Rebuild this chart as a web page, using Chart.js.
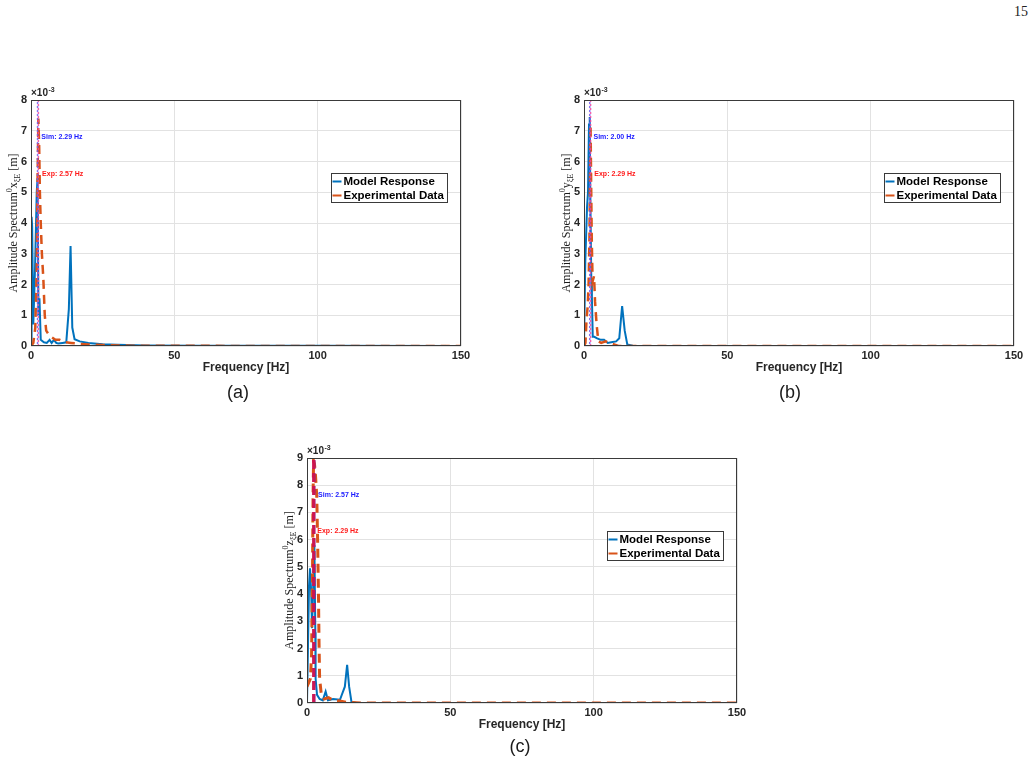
<!DOCTYPE html>
<html>
<head>
<meta charset="utf-8">
<script src="https://cdn.jsdelivr.net/npm/chart.js@4.4.0/dist/chart.umd.min.js"></script>
<style>
body{margin:0;background:#fff;width:1034px;height:767px;position:relative;overflow:hidden;font-family:Arial,"Liberation Sans",sans-serif}
.box{position:absolute}
.cap{position:absolute;font-size:18px;color:#1a1a1a;transform:translateX(-50%)}
</style>
</head>
<body>
<div class="box" style="left:1014px;top:4px;font:14px 'Liberation Serif';color:#222">15</div>
<div class="box" style="left:0;top:85px"><canvas id="ca" width="480" height="300"></canvas></div>
<div class="box" style="left:553px;top:85px"><canvas id="cb" width="480" height="300"></canvas></div>
<div class="box" style="left:276px;top:443px"><canvas id="cc" width="480" height="300"></canvas></div>
<div class="cap" style="left:238px;top:382px">(a)</div>
<div class="cap" style="left:790px;top:382px">(b)</div>
<div class="cap" style="left:520px;top:736px">(c)</div>
<script>
'use strict'

// (a) x方向
const freqModelA = [0, 0.2, 0.4, 0.8, 1.4, 2.0, 2.29, 2.6, 2.95, 3.4, 4.5, 5.5, 6.5, 7.2, 8.0, 8.8, 9.5, 11, 12.3, 13.2, 13.8, 14.4, 15.2, 17, 20, 25, 30, 40, 60, 100, 150];
const modelA =     [0.1, 4.2, 3.9, 0.7, 2.5, 5.0, 5.45, 1.0, 1.55, 0.2, 0.12, 0.1, 0.2, 0.1, 0.2, 0.1, 0.08, 0.1, 0.12, 1.2, 3.25, 0.6, 0.22, 0.15, 0.1, 0.06, 0.04, 0.02, 0.01, 0.005, 0];
const freqExpA = [0, 0.8, 1.5, 2.0, 2.3, 2.57, 2.85, 3.1, 3.4, 3.8, 4.3, 4.8, 5.3, 6.0, 7.0, 8.5, 10, 12, 14, 17, 20, 25, 35, 60, 100, 150];
const expA =     [0, 0.1, 0.6, 2.5, 5.5, 7.4, 6.5, 5.0, 4.0, 3.0, 2.2, 1.0, 0.5, 0.4, 0.3, 0.2, 0.2, 0.12, 0.1, 0.07, 0.05, 0.03, 0.01, 0.005, 0, 0];

// (b) y方向
const freqModelB = [0, 0.45, 1.05, 1.4, 1.75, 2.0, 2.2, 2.55, 2.75, 3.05, 3.6, 4.6, 5.8, 7.0, 8.3, 9.5, 11.2, 12.3, 13.3, 14.2, 15.1, 17, 25, 60, 150];
const modelB =     [0, 2.75, 4.5, 5.0, 7.2, 7.45, 5.0, 2.1, 1.6, 0.3, 0.3, 0.25, 0.2, 0.2, 0.1, 0.12, 0.15, 0.25, 1.3, 0.5, 0.05, 0.01, 0, 0, 0];
const freqExpB = [0, 0.5, 0.9, 1.3, 1.6, 1.9, 2.1, 2.29, 2.5, 2.7, 3.0, 3.5, 3.85, 4.4, 5.0, 6.0, 7.5, 9.0, 10.5, 12, 20, 60, 150];
const expB =     [0, 0.1, 0.9, 1.3, 2.0, 3.5, 5.5, 7.2, 5.2, 3.5, 2.1, 2.27, 1.45, 0.7, 0.15, 0.1, 0.15, 0.1, 0.05, 0, 0, 0, 0];

// (c) z方向
const freqModelC = [0, 0.35, 0.7, 1.05, 1.5, 1.75, 2.1, 2.57, 2.9, 3.0, 3.5, 4.4, 5.5, 6.5, 7.3, 9.1, 11.5, 13.2, 14.0, 14.7, 15.5, 17, 25, 60, 150];
const modelC =     [0, 2.1, 4.3, 4.95, 4.0, 2.75, 4.0, 5.8, 2.6, 0.9, 0.3, 0.15, 0.1, 0.42, 0.1, 0.15, 0.12, 0.6, 1.4, 0.6, 0.05, 0.01, 0, 0, 0];
const freqExpC = [0, 0.6, 1.2, 1.6, 1.9, 2.1, 2.29, 2.6, 3.0, 3.4, 3.7, 4.0, 4.2, 4.4, 5.0, 6.0, 7.5, 9, 11, 14, 20, 60, 150];
const expC =     [0.6, 0.75, 0.9, 1.8, 4.5, 7.5, 8.9, 8.8, 8.3, 7.6, 6.0, 4.0, 2.2, 0.9, 0.3, 0.15, 0.2, 0.1, 0.08, 0.02, 0, 0, 0];

// ピーク周波数
const simPeak = [2.29, 2.00, 2.57];
const expPeak = [2.57, 2.29, 2.29];
const yMax = [8, 8, 9];
const dirName = ['x', 'y', 'z'];
const xTicks = [0, 50, 100, 150];
const seriesNames = ['Model Response', 'Experimental Data'];

const BLUE = '#0072BD';
const ORANGE = '#D95319';

function pts(fs, vs) {
    return fs.map((f, i) => ({x: f, y: vs[i]}));
}

const deco = {
    id: 'deco',
    afterDatasetsDraw(chart, args, o) {
        const ctx = chart.ctx;
        const a = chart.chartArea;
        const xs = chart.scales.x, ys = chart.scales.y;
        ctx.save();
        // 枠
        ctx.strokeStyle = '#3a3a3a';
        ctx.lineWidth = 1;
        const l = Math.round(a.left) + 0.5, t = Math.round(a.top) + 0.5;
        const r = Math.round(a.right) - 0.5, b = Math.round(a.bottom) - 0.5;
        ctx.strokeRect(l, t, r - l, b - t);

        // ピーク注記
        ctx.font = 'bold 7px Arial';
        ctx.textBaseline = 'middle';
        ctx.textAlign = 'left';
        ctx.fillStyle = '#1a1aff';
        ctx.fillText('Sim: ' + o.sim.toFixed(2) + ' Hz', xs.getPixelForValue(o.sim + 1.3), ys.getPixelForValue(o.ymax * 0.85));
        ctx.fillStyle = '#ff1a1a';
        ctx.fillText('Exp: ' + o.exp.toFixed(2) + ' Hz', xs.getPixelForValue(o.exp + 1.3), ys.getPixelForValue(o.ymax * 0.7));

        // 凡例
        const w = a.right - a.left, h = a.bottom - a.top;
        const lx = Math.round(a.left + w * 0.698) + 0.5, ly = Math.round(a.top + h * 0.298) + 0.5;
        ctx.fillStyle = '#fff';
        ctx.fillRect(lx, ly, 116, 29);
        ctx.strokeStyle = '#3a3a3a';
        ctx.strokeRect(lx, ly, 116, 29);
        ctx.font = 'bold 11.5px Arial';
        ctx.fillStyle = '#000';
        [BLUE, ORANGE].forEach((c, i) => {
            const yy = ly + 8 + i * 14;
            ctx.strokeStyle = c;
            ctx.lineWidth = 2;
            ctx.beginPath();
            ctx.moveTo(lx + 1, yy);
            ctx.lineTo(lx + 10, yy);
            ctx.stroke();
            ctx.fillText(seriesNames[i], lx + 12, yy + 0.5);
        });

        // x軸タイトル
        ctx.textAlign = 'center';
        ctx.font = 'bold 12px Arial';
        ctx.fillStyle = '#262626';
        ctx.fillText('Frequency [Hz]', (a.left + a.right) / 2, a.bottom + 22);

        // ×10^-3
        ctx.textAlign = 'left';
        ctx.textBaseline = 'alphabetic';
        ctx.font = 'bold 10px Arial';
        ctx.fillText('×10', a.left, a.top - 4);
        const mw = ctx.measureText('×10').width;
        ctx.font = 'bold 7px Arial';
        ctx.fillText('-3', a.left + mw + 0.5, a.top - 8);

        // y軸タイトル (回転)
        const parts = [
            ['Amplitude Spectrum', 12, 0],
            ['0', 8, -5],
            [o.dir, 12, 0],
            ['ξE', 8, 3],
            [' [m]', 12, 0]
        ];
        let total = 0;
        parts.forEach(p => {
            ctx.font = p[1] + 'px "Liberation Serif"';
            p.push(ctx.measureText(p[0]).width);
            total += p[3];
        });
        ctx.translate(13, (a.top + a.bottom) / 2);
        ctx.rotate(-Math.PI / 2);
        ctx.fillStyle = '#1a1a1a';
        let px = -total / 2;
        parts.forEach(p => {
            ctx.font = p[1] + 'px "Liberation Serif"';
            ctx.fillText(p[0], px, 4 + p[2]);
            px += p[3];
        });
        ctx.restore();
    }
};

function makeChart(id, k, fm, vm, fe, ve) {
    const ymax = yMax[k];
    const ctx = document.getElementById(id);
    const thick = k === 2;
    return new Chart(ctx, {
        type: 'line',
        data: {
            datasets: [
                {
                    label: 'Exp peak',
                    data: [{x: expPeak[k], y: 0}, {x: expPeak[k], y: ymax}],
                    borderColor: thick ? 'rgba(205,20,80,0.95)' : 'rgba(240,70,160,0.85)',
                    borderWidth: thick ? 3 : 1.5,
                    borderDash: thick ? [9, 4] : [2, 2],
                    pointRadius: 0,
                    order: 0
                },
                {
                    label: 'Sim peak',
                    data: [{x: simPeak[k], y: 0}, {x: simPeak[k], y: ymax}],
                    borderColor: thick ? 'rgba(150,30,140,0.6)' : 'rgba(110,90,240,0.85)',
                    borderWidth: thick ? 3 : 1.5,
                    borderDash: thick ? [9, 4] : [2, 2],
                    borderDashOffset: thick ? 0 : 2,
                    pointRadius: 0,
                    order: 1
                },
                {
                    label: seriesNames[1],
                    data: pts(fe, ve),
                    borderColor: ORANGE,
                    borderWidth: thick ? 3 : 2.5,
                    borderDash: [9, 6],
                    pointRadius: 0,
                    tension: 0,
                    order: 2
                },
                {
                    label: seriesNames[0],
                    data: pts(fm, vm),
                    borderColor: BLUE,
                    borderWidth: 2,
                    pointRadius: 0,
                    tension: 0,
                    order: 3
                }
            ]
        },
        options: {
            responsive: false,
            animation: false,
            layout: {padding: {left: 0, top: 15, right: 19, bottom: 0}},
            plugins: {
                legend: {display: false},
                tooltip: {enabled: false},
                deco: {sim: simPeak[k], exp: expPeak[k], ymax: ymax, dir: dirName[k]}
            },
            scales: {
                x: {
                    type: 'linear',
                    min: 0,
                    max: 150,
                    afterBuildTicks: s => { s.ticks = xTicks.map(v => ({value: v})); },
                    afterFit: s => { s.height = k === 2 ? 40 : 39; },
                    grid: {color: '#e2e2e2', drawTicks: false},
                    border: {display: false},
                    ticks: {padding: 3, color: '#262626', font: {family: 'Arial', size: 11, weight: 'bold'}, maxRotation: 0}
                },
                y: {
                    min: 0,
                    max: ymax,
                    afterFit: s => { s.width = 31; },
                    grid: {color: '#e2e2e2', drawTicks: false},
                    border: {display: false},
                    ticks: {stepSize: 1, padding: 4, color: '#262626', font: {family: 'Arial', size: 11, weight: 'bold'}}
                }
            }
        },
        plugins: [deco]
    });
}

makeChart('ca', 0, freqModelA, modelA, freqExpA, expA);
makeChart('cb', 1, freqModelB, modelB, freqExpB, expB);
makeChart('cc', 2, freqModelC, modelC, freqExpC, expC);
</script>
</body>
</html>
